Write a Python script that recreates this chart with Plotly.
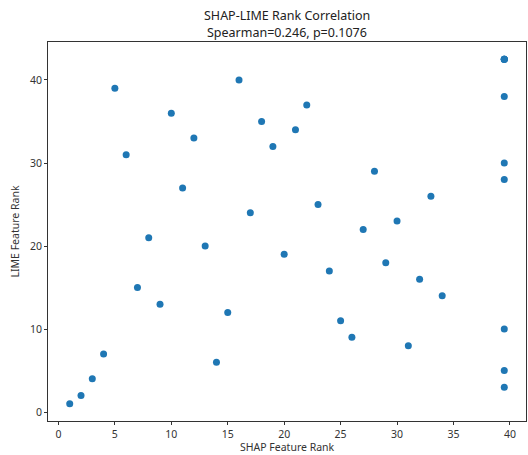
import plotly.graph_objects as go

shap_rank = [1, 2, 3, 4, 5, 6, 7, 8, 9, 10, 11, 12, 13, 14, 15, 16, 17, 18, 19, 20,
             21, 22, 23, 24, 25, 26, 27, 28, 29, 30, 31, 32, 33, 34,
             39.5, 39.5, 39.5, 39.5, 39.5, 39.5, 39.5, 39.5, 39.5, 39.5]
lime_rank = [1, 2, 4, 7, 39, 31, 15, 21, 13, 36, 27, 33, 20, 6, 12, 40, 24, 35, 32, 19,
             34, 37, 25, 17, 11, 9, 22, 29, 18, 23, 8, 16, 26, 14,
             42.5, 42.5, 42.5, 42.5, 38, 30, 28, 10, 5, 3]
x_ticks = [0, 5, 10, 15, 20, 25, 30, 35, 40]
y_ticks = [0, 10, 20, 30, 40]

title_lines = ["SHAP-LIME Rank Correlation", "Spearman=0.246, p=0.1076"]
x_title = "SHAP Feature Rank"
y_title = "LIME Feature Rank"
font_family = "Noto Sans, Open Sans, DejaVu Sans, sans-serif"

fig = go.Figure()
fig.add_trace(go.Scatter(
    x=shap_rank, y=lime_rank, mode="markers",
    marker=dict(color="#1f77b4", size=7, line=dict(width=0)),
    showlegend=False,
))

axis_common = dict(
    showgrid=False, zeroline=False, showline=True, mirror=True,
    linecolor="#333333", linewidth=1, ticks="outside", ticklen=3,
    tickcolor="#333333", tickwidth=1, automargin=False,
    tickfont=dict(size=10.5, color="#333333", family=font_family),
)

# title lines placed in paper coordinates (plot area height = 455-42-34)
for i, line in enumerate(title_lines):
    fig.add_annotation(
        text=line, xref="paper", yref="paper", x=0.5, y=[1.069, 1.026][i],
        xanchor="center", yanchor="middle", showarrow=False,
        font=dict(size=12.5, color="#222222", family=font_family),
    )

fig.add_annotation(
    text=x_title, xref="paper", yref="paper", x=0.5, y=-0.0686,
    xanchor="center", yanchor="middle", showarrow=False,
    font=dict(size=10.5, color="#333333", family=font_family),
)

fig.update_layout(
    width=528, height=455,
    margin=dict(l=48, r=2, t=42, b=34),
    paper_bgcolor="white", plot_bgcolor="white",
    font=dict(family=font_family, color="#222222"),
    xaxis=dict(range=[-0.925, 41.425], tickvals=x_ticks, **axis_common),
    yaxis=dict(range=[-1.075, 44.575], tickvals=y_ticks,
               title=dict(text=y_title, standoff=8,
                          font=dict(size=10.5, color="#333333")),
               **axis_common),
)

fig.write_html("out.html")
